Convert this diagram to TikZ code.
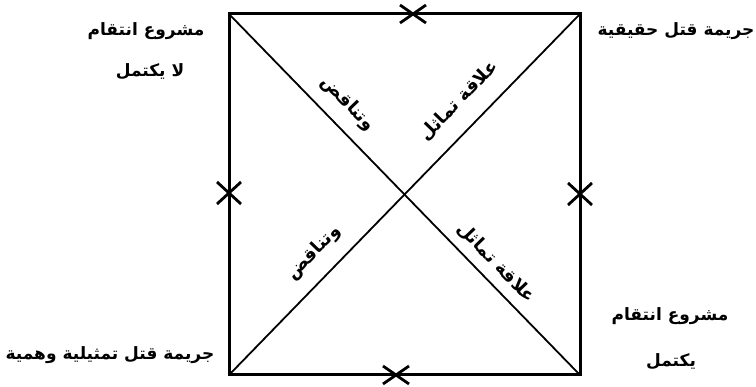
\documentclass[tikz,border=0pt]{standalone}
\usepackage{fontspec}
\TeXXeTstate=1
\newfontfamily\arabicfont[Script=Arabic]{DejaVu Sans}
\begin{document}
\begin{tikzpicture}[x=1pt,y=-1pt,
  lab/.style={font=\arabicfont\bfseries\fontsize{17}{20}\selectfont, inner sep=1pt},
  dlab/.style={font=\arabicfont\bfseries\fontsize{18}{20}\selectfont, inner sep=0pt},
  frame/.style={line width=3pt, line join=miter},
  diag/.style={line width=1.8pt},
  xcross/.pic={\draw[line width=2.8pt] (-13,-9) -- (13,9) (-13,9) -- (13,-9);},
  xcrossv/.pic={\draw[line width=2.8pt] (-12,-11) -- (12,11) (-12,11) -- (12,-11);}]
\useasboundingbox (0,0) rectangle (756,387);
\coordinate (A) at (229,14);
\coordinate (B) at (580,14);
\coordinate (C) at (580,375);
\coordinate (D) at (229,375);
\draw[frame] (A) -- (B) -- (C) -- (D) -- cycle;
\draw[diag] (A) -- (C);
\draw[diag] (B) -- (D);
% marks on the edges
\coordinate (mt) at (413,14);
\coordinate (ml) at (229,193);
\coordinate (mr) at (580,194);
\coordinate (mb) at (396,375);
\pic at (mt) {xcross};
\pic at (ml) {xcrossv};
\pic at (mr) {xcrossv};
\pic at (mb) {xcross};
% corner labels
\node[lab] (tl1) at (146,31) {\beginR مشروع انتقام\endR};
\node[lab] (tl2) at (150,72) {\beginR لا يكتمل\endR};
\node[lab] (tr) at (676,31) {\beginR جريمة قتل حقيقية\endR};
\node[lab] (br1) at (670,316) {\beginR مشروع انتقام\endR};
\node[lab] (br2) at (671,362) {\beginR يكتمل\endR};
\node[lab] (bl) at (110,355) {\beginR جريمة قتل تمثيلية وهمية\endR};
% diagonal labels
\node[dlab, rotate=-46] (d1) at (348,104) {\beginR وتناقض\endR};
\node[dlab, rotate=46] (d2) at (459,101) {\beginR علاقة تماثل\endR};
\node[dlab, rotate=46] (d3) at (314,253) {\beginR وتناقض\endR};
\node[dlab, rotate=-46] (d4) at (496,263) {\beginR علاقة تماثل\endR};
\end{tikzpicture}
\end{document}
